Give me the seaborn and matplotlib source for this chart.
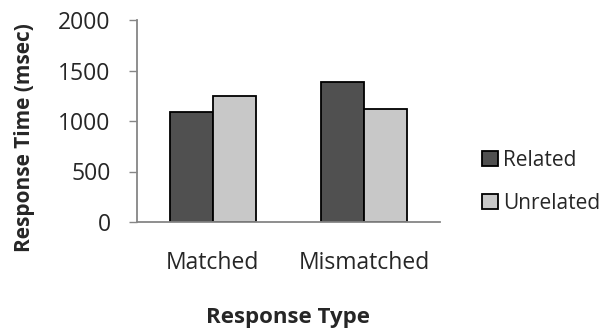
import pandas as pd
import matplotlib
matplotlib.use('Agg')
import matplotlib.pyplot as plt
import seaborn as sns

# Values
response_types = ['Matched', 'Mismatched']
related = [1090, 1385]
unrelated = [1250, 1120]
series_names = ['Related', 'Unrelated']
y_ticks = [0, 500, 1000, 1500, 2000]

df = pd.DataFrame({
    'Response Type': response_types * 2,
    'Response Time': related + unrelated,
    'Condition': [series_names[0]] * 2 + [series_names[1]] * 2,
})

sns.set_style('white')
plt.rcParams['font.family'] = ['Open Sans', 'DejaVu Sans']

fig = plt.figure(figsize=(6.11, 3.29), dpi=100)
ax = fig.add_axes([137 / 611, 1 - 222 / 329, 303 / 611, 202 / 329])

sns.barplot(
    data=df, x='Response Type', y='Response Time', hue='Condition',
    palette=['#505050', '#c8c8c8'], width=0.57, gap=0,
    edgecolor='black', linewidth=1.3, ax=ax,
)

ax.set_ylim(0, 2000)
ax.set_yticks(y_ticks)
ax.set_xlim(-0.5, 1.5)
ax.tick_params(axis='y', labelsize=16.5, length=6, width=1, color='#868686',
               direction='out', left=True, pad=13)
ax.tick_params(axis='x', labelsize=16.5, length=0, pad=21)
for side in ['top', 'right']:
    ax.spines[side].set_visible(False)
for side in ['left', 'bottom']:
    ax.spines[side].set_color('#868686')
    ax.spines[side].set_linewidth(1.3)

ax.set_ylabel('Response Time (msec)', fontsize=15, fontweight='bold', va='center')
ax.yaxis.set_label_coords(-112 / 303, 0.42)
ax.set_xlabel('Response Type', fontsize=16, fontweight='bold', va='center')
ax.xaxis.set_label_coords(0.5, -95 / 202)

leg = ax.legend(loc='center left', bbox_to_anchor=(345 / 303, 0.2), frameon=False,
                fontsize=15, handlelength=0.75, handleheight=0.75, borderpad=0,
                handletextpad=0.25, labelspacing=1.05, borderaxespad=0)

fig.savefig('out.png', dpi=100)
